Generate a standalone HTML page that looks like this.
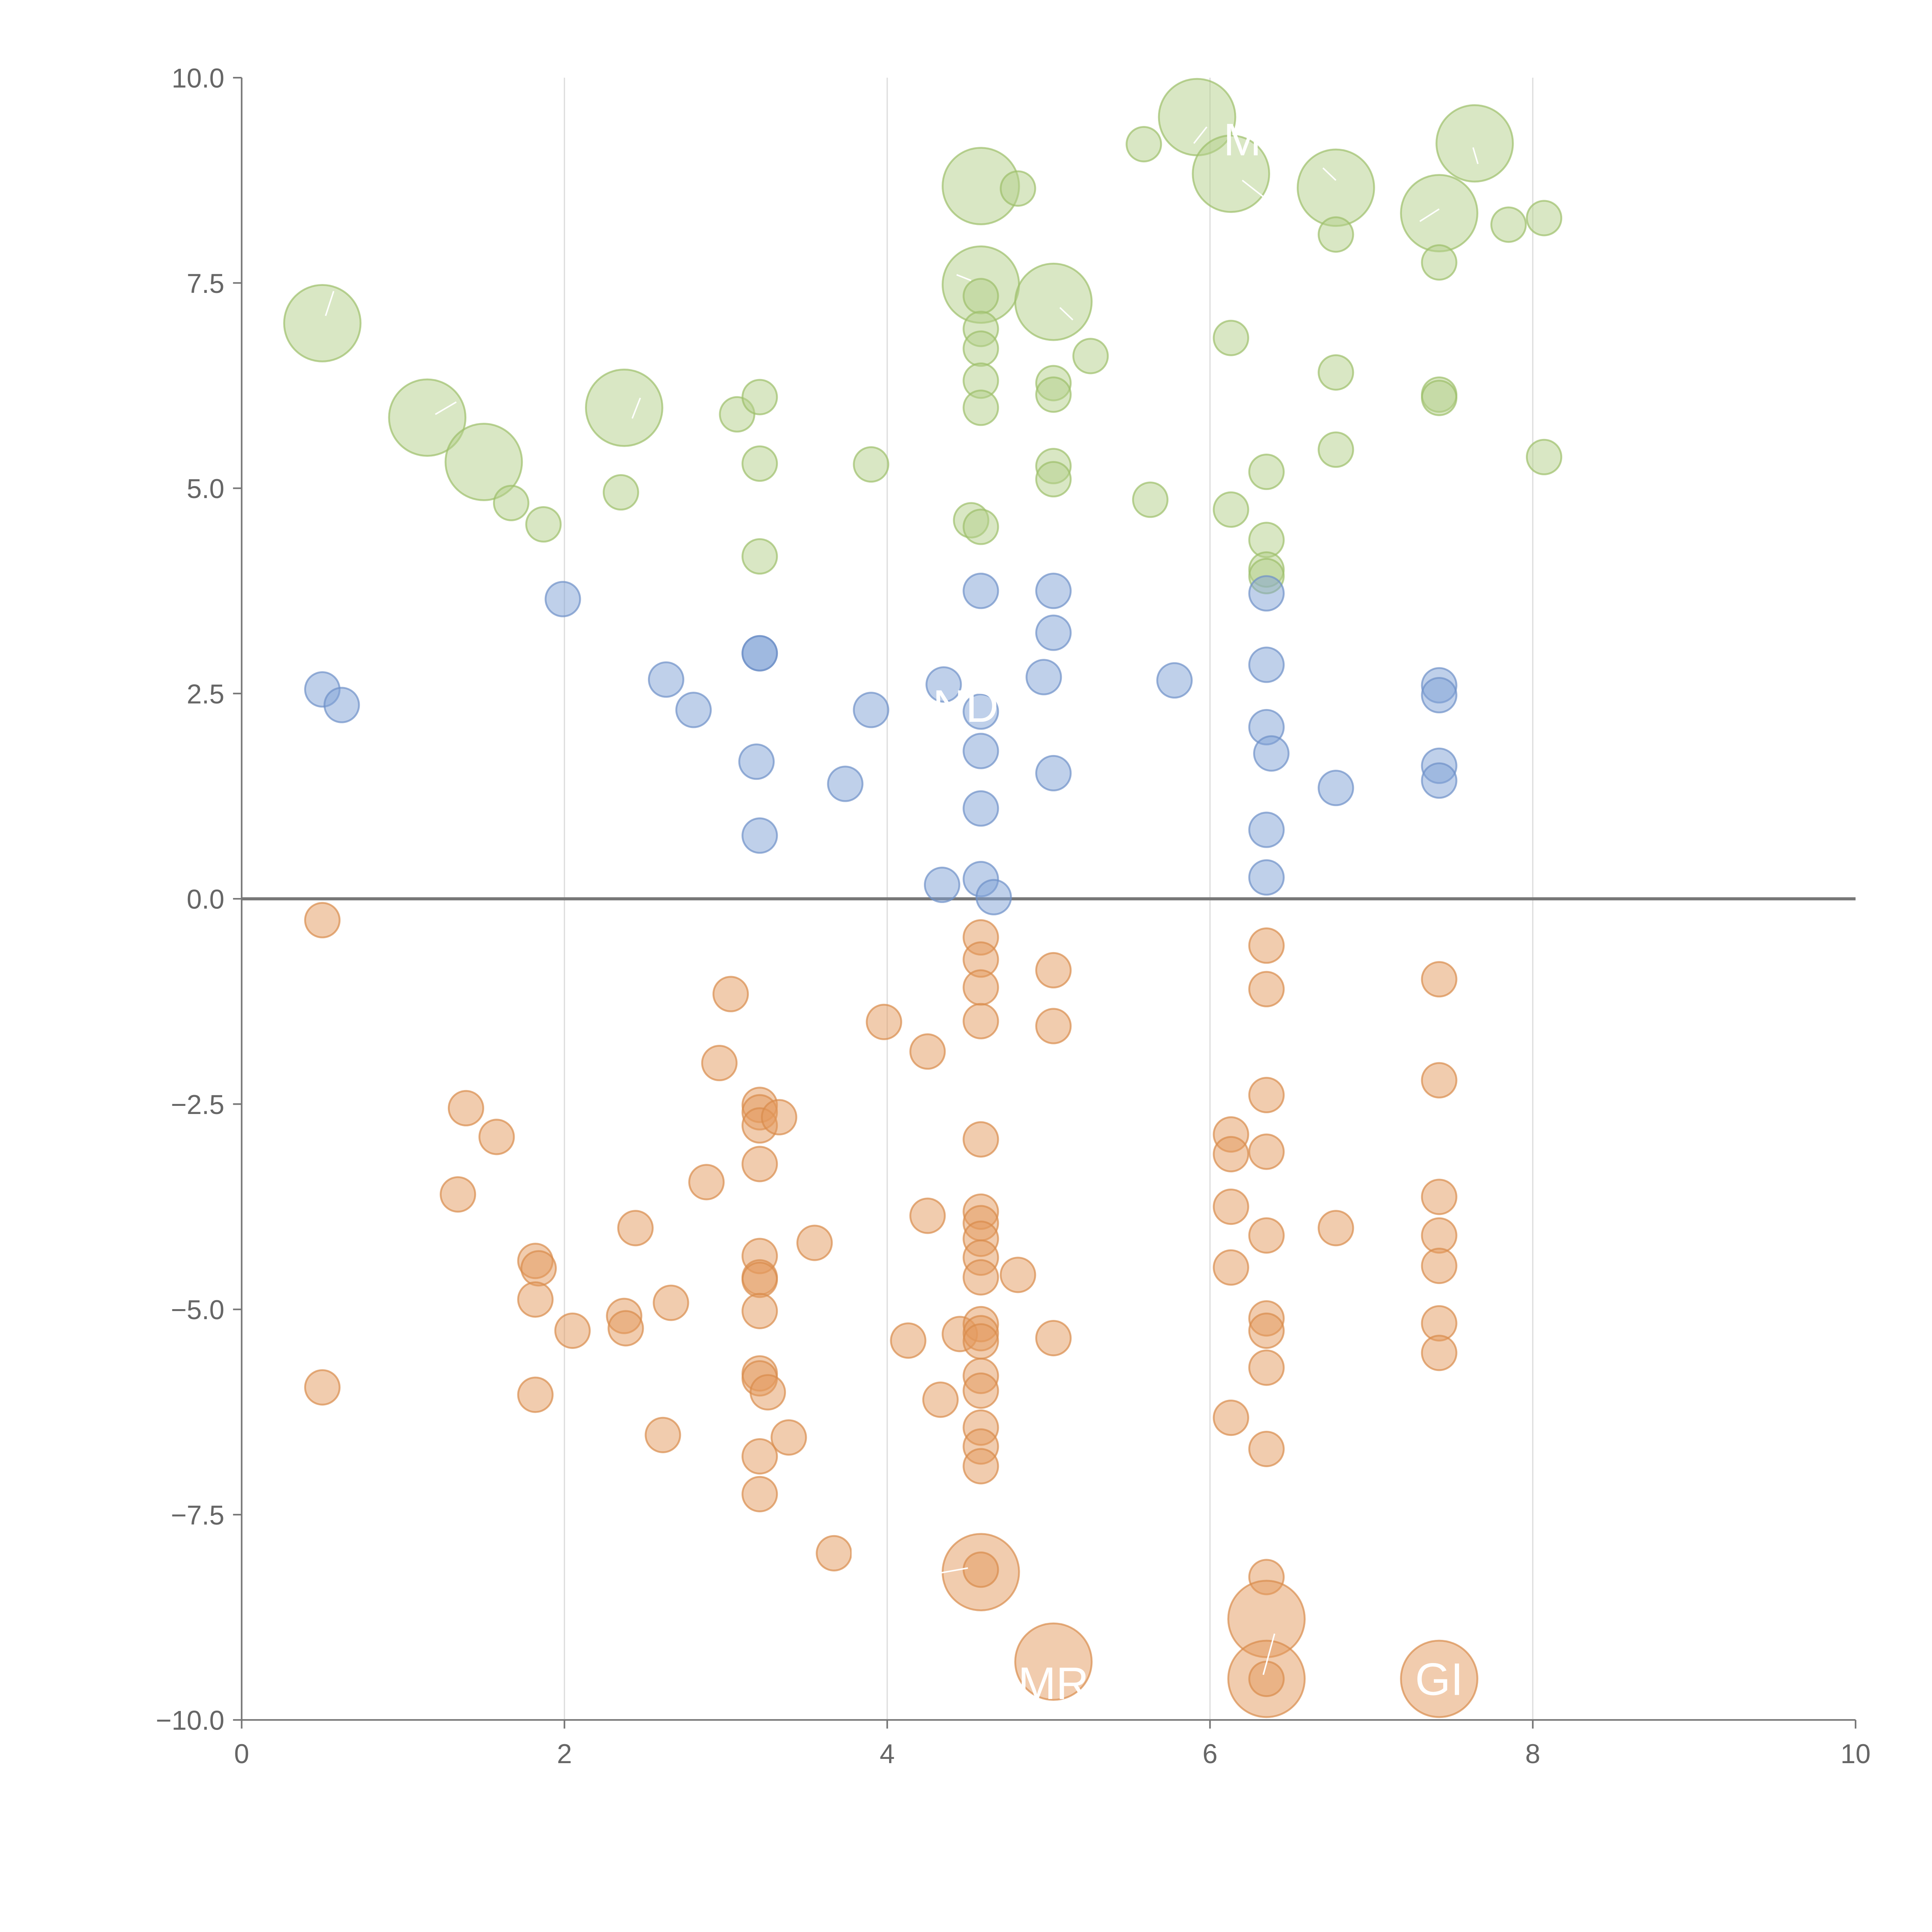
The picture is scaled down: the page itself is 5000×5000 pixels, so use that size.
<!DOCTYPE html>
<html><head><meta charset="utf-8">
<style>html,body{margin:0;padding:0;background:#fff}svg{display:block}</style>
</head><body>
<svg id="chart" width="5000" height="5000" viewBox="0 0 1567 1567" xmlns="http://www.w3.org/2000/svg" font-family="Liberation Sans, Arial, sans-serif">
<g id="grid"></g>
<g id="axes"></g>
<g id="marks"></g>
<g id="labels"></g>
</svg>
<script>
const xTicks=[0,2,4,6,8,10];
const yTicks=[10,7.5,5,2.5,0,-2.5,-5,-7.5,-10];
const greenX=[0.50,1.15,1.50,1.67,1.87,2.37,2.35,3.07,3.21,3.21,3.21,3.90,4.58,4.81,4.58,4.58,4.58,4.58,4.58,4.58,4.52,4.58,5.03,5.03,5.03,5.03,5.03,5.26,5.59,5.92,6.13,6.13,6.13,5.63,6.35,6.35,6.35,6.35,6.78,6.78,6.78,6.78,7.42,7.42,7.42,7.42,7.64,7.85,8.07,8.07];
const greenY=[7.01,5.86,5.32,4.82,4.56,5.98,4.95,5.90,6.11,5.30,4.17,5.29,8.68,8.65,7.48,7.34,6.94,6.70,6.31,5.98,4.61,4.53,7.27,6.28,6.14,5.27,5.11,6.61,9.19,9.52,8.83,6.83,4.74,4.86,5.20,4.37,4.01,3.93,8.66,8.09,6.41,5.47,8.35,7.75,6.14,6.10,9.20,8.21,8.29,5.38];
const greenBig=[1,1,1,0,0,1,0,0,0,0,0,0,1,0,1,0,0,0,0,0,0,0,1,0,0,0,0,0,0,1,1,0,0,0,0,0,0,0,1,0,0,0,1,0,0,0,1,0,0,0];
const blueX=[0.50,0.62,1.99,2.63,2.80,3.21,3.21,3.19,3.21,3.74,3.90,4.35,4.58,4.58,4.58,4.58,4.58,4.34,4.66,4.97,5.03,5.03,5.03,5.78,6.35,6.35,6.35,6.38,6.35,6.35,6.78,7.42,7.42,7.42,7.42];
const blueY=[2.55,2.36,3.65,2.67,2.30,2.99,2.99,1.67,0.77,1.40,2.30,2.61,3.75,2.28,1.80,1.10,0.24,0.17,0.02,2.70,3.75,3.24,1.53,2.66,3.72,2.85,2.09,1.77,0.84,0.26,1.35,2.60,2.48,1.62,1.44];
const orangeX=[0.50,0.50,1.34,1.39,1.58,1.82,1.84,1.82,1.82,2.05,2.37,2.38,2.44,2.66,2.61,2.96,3.03,2.88,3.21,3.21,3.21,3.33,3.21,3.21,3.21,3.21,3.21,3.21,3.21,3.26,3.21,3.21,3.39,3.55,3.98,4.25,4.25,4.13,4.33,4.45,4.58,4.58,4.58,4.58,4.58,4.58,4.58,4.58,4.58,4.58,4.58,4.58,4.58,4.58,4.58,4.58,4.58,4.58,4.81,5.03,5.03,5.03,3.67,4.58,4.58,5.03,6.13,6.13,6.13,6.13,6.13,6.35,6.35,6.35,6.35,6.35,6.35,6.35,6.35,6.35,6.35,6.35,6.35,6.35,6.78,7.42,7.42,7.42,7.42,7.42,7.42,7.42,7.42];
const orangeY=[-0.26,-5.95,-3.60,-2.55,-2.90,-4.41,-4.50,-4.88,-6.04,-5.26,-5.08,-5.23,-4.01,-4.92,-6.53,-2.00,-1.16,-3.45,-2.51,-2.60,-2.76,-2.66,-3.23,-4.35,-4.61,-4.64,-5.02,-5.78,-5.84,-6.01,-6.79,-7.25,-6.56,-4.19,-1.50,-1.86,-3.86,-5.38,-6.10,-5.30,-0.47,-0.74,-1.08,-1.49,-2.93,-3.81,-3.95,-4.14,-4.37,-4.61,-5.18,-5.29,-5.39,-5.81,-5.99,-6.44,-6.67,-6.91,-4.58,-0.87,-1.55,-5.35,-7.97,-8.20,-8.17,-9.29,-2.87,-3.11,-3.75,-4.49,-6.32,-0.57,-1.10,-2.39,-3.08,-4.10,-5.11,-5.26,-5.71,-6.70,-8.26,-8.77,-9.50,-9.50,-4.01,-0.98,-2.21,-3.63,-4.10,-4.47,-5.17,-5.53,-9.50];
const orangeBig=[0,0,0,0,0,0,0,0,0,0,0,0,0,0,0,0,0,0,0,0,0,0,0,0,0,0,0,0,0,0,0,0,0,0,0,0,0,0,0,0,0,0,0,0,0,0,0,0,0,0,0,0,0,0,0,0,0,0,0,0,0,0,0,1,0,1,0,0,0,0,0,0,0,0,0,0,0,0,0,0,0,1,1,0,0,0,0,0,0,0,0,0,1];
const labelText=["MIG","NDA","MR","GI","E   O"];
const labelX=[6.35,4.58,5.03,7.42,4.00];
const labelY=[9.25,2.35,-9.55,-9.5,-7.95];
const leadX1=[0.52,1.20,2.42,4.52,5.07,5.98,6.33,6.78,7.30,7.66,4.50,6.40];
const leadY1=[7.10,5.90,5.85,7.53,7.20,9.40,8.55,8.75,8.25,8.95,-8.15,-8.95];
const leadX2=[0.57,1.33,2.47,4.43,5.15,5.90,6.20,6.70,7.42,7.63,4.30,6.33];
const leadY2=[7.40,6.05,6.10,7.60,7.05,9.20,8.75,8.90,8.40,9.15,-8.22,-9.45];

const X0=196,X1=1505,Y0=1395,Y1=63;
const sx=v=>X0+(v-0)/(10-0)*(X1-X0);
const sy=v=>Y0-(v+10)/20*(Y0-Y1);
const NS="http://www.w3.org/2000/svg";
function mk(tag,attrs,parent){const e=document.createElementNS(NS,tag);for(const k in attrs)e.setAttribute(k,attrs[k]);parent.appendChild(e);return e;}
const grid=document.getElementById('grid'),axes=document.getElementById('axes'),marks=document.getElementById('marks'),labels=document.getElementById('labels');
xTicks.forEach(t=>{
  if(t>0&&t<10){const g=mk('line',{x1:sx(t),x2:sx(t),y1:Y1,y2:Y0,stroke:'#dddddd','stroke-width':1},grid);
  
  }
  const tk=mk('line',{x1:sx(t),x2:sx(t),y1:Y0,y2:Y0+7,stroke:'#777','stroke-width':1.3},axes);
  
  
  const tl=mk('text',{x:sx(t),y:Y0+35,'text-anchor':'middle','font-size':22,fill:'#666'},axes);
  tl.textContent=String(t);
  
  
});
yTicks.forEach(t=>{
  const tk=mk('line',{x1:X0-7,x2:X0,y1:sy(t),y2:sy(t),stroke:'#777','stroke-width':1.3},axes);
  
  
  const tl=mk('text',{x:X0-14,y:sy(t)+8,'text-anchor':'end','font-size':22,fill:'#666'},axes);
  tl.textContent=(t<0?'\u2212':'')+Math.abs(t).toFixed(1);
  
  
});
const ya=mk('line',{x1:X0,x2:X0,y1:Y1,y2:Y0,stroke:'#777','stroke-width':1.3},axes);


const xa=mk('line',{x1:X0,x2:X1,y1:Y0,y2:Y0,stroke:'#777','stroke-width':1.3},axes);


const zl=mk('line',{x1:X0,x2:X1,y1:sy(0),y2:sy(0),stroke:'#777','stroke-width':2.5},axes);



function series(xs,ys,big,fill,stroke,name){
  xs.forEach((x,i)=>{
    const r=(big&&big[i])?31:14;
    const c=mk('circle',{cx:sx(x),cy:sy(ys[i]),r:r,fill:fill,'fill-opacity':0.5,stroke:stroke,'stroke-opacity':0.7,'stroke-width':1.5},marks);
    
    
  });
}
series(greenX,greenY,greenBig,'#b3d08a','#9dbf6a','green-bubble');
series(blueX,blueY,null,'#7fa1d6','#6d90c8','blue-bubble');
series(orangeX,orangeY,orangeBig,'#e49a5e','#d98b4c','orange-bubble');
leadX1.forEach((x,i)=>{
  const l=mk('line',{x1:sx(x),y1:sy(leadY1[i]),x2:sx(leadX2[i]),y2:sy(leadY2[i]),stroke:'#ffffff','stroke-width':1.2},labels);
  
  
});
labelText.forEach((s,i)=>{
  const t=mk('text',{x:sx(labelX[i]),y:sy(labelY[i])+13,'text-anchor':'middle','font-size':37,fill:'#ffffff'},labels);
  t.textContent=s;
  
  
});
</script>
</body></html>
